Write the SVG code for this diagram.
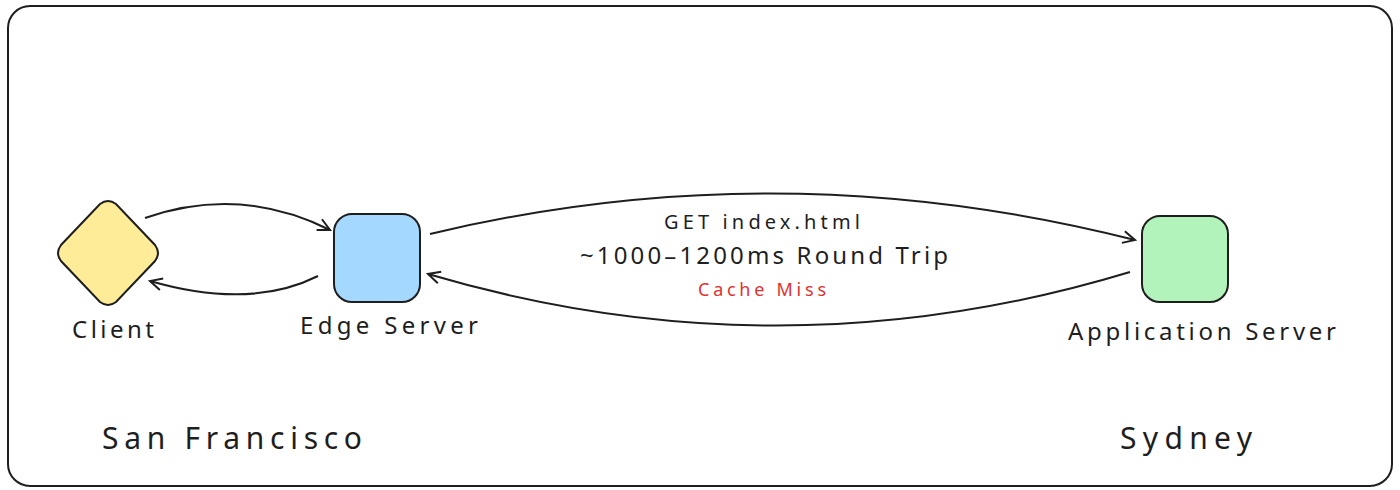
<svg xmlns="http://www.w3.org/2000/svg" width="1400" height="490" viewBox="0 0 1400 490">
<style>
.t{font-family:"Noto Sans","Liberation Sans",sans-serif;fill:#1e1e1e;text-anchor:middle}
.c{fill:none;stroke:#1e1e1e;stroke-width:2;marker-end:url(#a)}
.n{stroke:#1e1e1e;stroke-width:2}
</style>
<defs><marker id="a" markerWidth="16" markerHeight="16" refX="13" refY="8" orient="auto" markerUnits="userSpaceOnUse"><path d="M1,2 L13,8 L1,14" fill="none" stroke="#1e1e1e" stroke-width="2"/></marker></defs>
<rect x="8" y="6" width="1384" height="480" rx="22" fill="#fff" stroke="#1e1e1e" stroke-width="2"/>
<g id="client"><path class="n" d="M100,204 Q108,198 116,204 L155,245 Q161,253 155,261 L116,302 Q108,308 100,302 L61,261 Q55,253 61,245 Z" fill="#ffec99"/><text class="t" x="113" y="338" font-size="24" textLength="82" lengthAdjust="spacing">Client</text></g>
<g id="edge"><rect class="n" x="334" y="214" width="86" height="88" rx="18" fill="#a5d8ff"/><text class="t" x="389" y="334" font-size="24" textLength="178" lengthAdjust="spacing">Edge Server</text></g>
<g id="app"><rect class="n" x="1142" y="216" width="86" height="86" rx="18" fill="#b2f2bb"/><text class="t" x="1202" y="340" font-size="24" textLength="268" lengthAdjust="spacing">Application Server</text></g>
<g id="labels">
<text class="t" x="232" y="449" font-size="30" textLength="260" lengthAdjust="spacing">San Francisco</text>
<text class="t" x="1186" y="449" font-size="30" textLength="132" lengthAdjust="spacing">Sydney</text>
<text class="t" x="762" y="229" font-size="20" textLength="196" lengthAdjust="spacing">GET index.html</text>
<text class="t" x="764" y="264" font-size="24" textLength="368" lengthAdjust="spacing">~1000–1200ms Round Trip</text>
<text class="t" x="762" y="296" font-size="18" textLength="128" lengthAdjust="spacing" style="fill:#e03131">Cache Miss</text>
</g>
<g id="connectors">
<path class="c" d="M145,218 Q240,185 330,230"/>
<path class="c" d="M318,276 Q250,310 150,281"/>
<path class="c" d="M430,234 Q780,150 1135,240"/>
<path class="c" d="M1130,272 Q780,378 428,274"/>
</g>
</svg>
